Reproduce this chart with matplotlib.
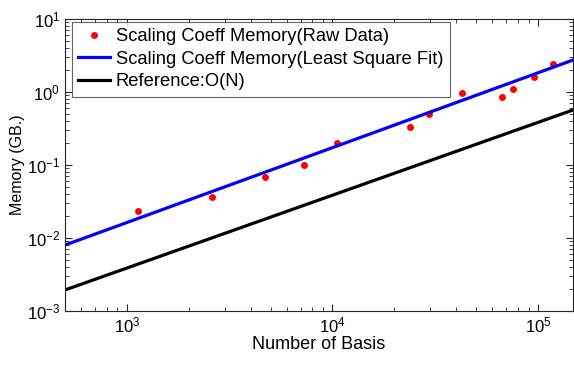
import matplotlib
matplotlib.use("Agg")
import matplotlib.pyplot as plt
from matplotlib.ticker import LogLocator, NullFormatter

plt.rcParams['font.family'] = ['Liberation Sans', 'DejaVu Sans']
plt.rcParams['mathtext.fontset'] = 'custom'
plt.rcParams['mathtext.rm'] = 'Liberation Sans'
plt.rcParams['mathtext.default'] = 'regular'

# measured memory of scaling coefficients
num_basis = [1135, 2600, 4700, 7280, 10570, 23800, 29600, 42600, 66700, 75500, 96000, 118600]
memory_gb = [0.0236, 0.036, 0.068, 0.10, 0.20, 0.33, 0.50, 0.98, 0.86, 1.09, 1.6, 2.4]

# least square fit and O(N) reference, end points
fit_basis = [500, 148000]
fit_memory = [0.0080, 2.74]
ref_basis = [500, 148000]
ref_memory = [0.00194, 0.567]

fig = plt.figure(figsize=(5.74, 3.67), dpi=100)
ax = fig.add_axes([0.1132, 0.1526, 0.885, 0.7956])

ax.loglog(num_basis, memory_gb, 'o', color='red', markersize=5, markeredgewidth=0,
          label='Scaling Coeff Memory(Raw Data)')
ax.loglog(fit_basis, fit_memory, '-', color='blue', linewidth=2.3,
          label='Scaling Coeff Memory(Least Square Fit)')
ax.loglog(ref_basis, ref_memory, '-', color='black', linewidth=2.3,
          label='Reference:O(N)')

ax.set_xlim(500, 148000)
ax.set_ylim(1e-3, 1e1)

ax.xaxis.set_major_locator(LogLocator(base=10, numticks=10))
ax.yaxis.set_major_locator(LogLocator(base=10, numticks=10))
ax.xaxis.set_minor_locator(LogLocator(base=10, subs=range(2, 10), numticks=20))
ax.yaxis.set_minor_locator(LogLocator(base=10, subs=range(2, 10), numticks=20))
ax.xaxis.set_minor_formatter(NullFormatter())
ax.yaxis.set_minor_formatter(NullFormatter())

ax.tick_params(which='both', direction='in', top=True, right=True, colors='#262626',
               labelcolor='black', labelsize=12)
ax.tick_params(which='major', length=5, width=0.8)
ax.tick_params(which='minor', length=3, width=0.6)
for s in ax.spines.values():
    s.set_color('#262626')
    s.set_linewidth(0.8)

ax.set_xlabel('Number of Basis', fontsize=13, labelpad=0)
ax.set_ylabel('Memory (GB.)', fontsize=11.5, labelpad=1)

leg = ax.legend(loc='upper left', bbox_to_anchor=(0.0138, 0.99), fontsize=13.2,
                frameon=True, fancybox=False, edgecolor='#404040', borderpad=0.35,
                handlelength=1.75, handletextpad=0.3, labelspacing=0.3,
                borderaxespad=0)
leg.get_frame().set_linewidth(0.8)

fig.savefig('out.png', dpi=100)
